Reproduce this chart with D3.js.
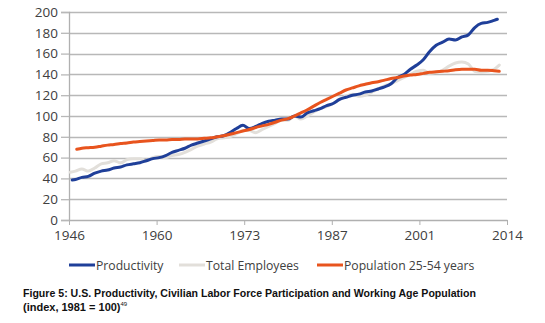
<!DOCTYPE html>
<html><head><meta charset="utf-8">
<script src="https://cdn.jsdelivr.net/npm/d3@7"></script>
<style>body{margin:0;background:#fff}svg{display:block}</style>
</head><body><div id="chart"></div>
<script>
// ---- data (index, 1981 = 100) ----
const productivityYears = [1946.5,1947,1948,1949,1950,1951,1952,1953,1954,1955,1956,1957,1958,1959,1960,1961,1962,1963,1964,1965,1966,1967,1968,1969,1970,1971,1972,1973,1974,1975,1976,1977,1978,1979,1980,1981,1982,1983,1984,1985,1986,1987,1988,1989,1990,1991,1992,1993,1994,1995,1996,1997,1998,1999,2000,2001,2002,2003,2004,2005,2006,2007,2008,2009,2010,2011,2012,2012.5];
const productivity = [38.5,39,41,42,45,47,48,50,51,53,54,55,57,59,60,62,65,67,69,72,74,76,78,80,81,84,88,91,88,90,93,95,96,97,97,100,99,103,105,107,110,112,116,118,120,121,123,124,126,128,131,137,140,145,149,154,162,168,171,174,173,176,178,185,189,190,192,193];

const employeeYears = [1946.2,1947,1948,1949,1950,1951,1952,1953,1954,1955,1956,1957,1958,1959,1960,1961,1962,1963,1964,1965,1966,1967,1968,1969,1970,1971,1972,1973,1974,1975,1976,1977,1978,1979,1980,1981,1982,1983,1984,1985,1986,1987,1988,1989,1990,1991,1992,1993,1994,1995,1996,1997,1998,1999,2000,2001,2002,2003,2004,2005,2006,2007,2008,2009,2010,2011,2012,2012.8];
const employees = [46,47,49,47,50,54,55,57,55,58,59,59,57,60,61,60,62,63,65,68,71,73,75,78,79,80,83,86,86,84,87,90,93,96,96,100,97,100,104,107,109,112,116,119,121,119,120,123,126,129,131,134,137,140,143,144,141,142,144,148,151,152,150,143,142,143,145,149];

const populationYears = [1947.2,1948,1949,1950,1951,1952,1953,1954,1955,1956,1957,1958,1959,1960,1961,1962,1963,1964,1965,1966,1967,1968,1969,1970,1971,1972,1973,1974,1975,1976,1977,1978,1979,1980,1981,1982,1983,1984,1985,1986,1987,1988,1989,1990,1991,1992,1993,1994,1995,1996,1997,1998,1999,2000,2001,2002,2003,2004,2005,2006,2007,2008,2009,2010,2011,2012,2012.8];
const population = [68,69,69.5,70,71,72,72.5,73.5,74,75,75.5,76,76.5,77,77,77.5,77.5,78,78,78,78.5,79,80,81,82.5,84,85.5,87,89,90.5,92,94,96,97.5,100,103,106,109.5,113,116,119,122,125,127,129,130.5,132,133,134.5,136,137,138.5,139.5,140,141,142,142.5,143,143.5,144.5,145,145,145,144,144,143.5,143];

const yTicks = [0,20,40,60,80,100,120,140,160,180,200];
const xTickLabels = ["1946","1960","1973","1987","2001","2014"];
const seriesNames = ["Productivity","Total Employees","Population 25-54 years"];
const seriesColors = ["#1f3f99","#e2dfda","#e8541e"];

const W = 545, H = 323;
const margin = {left:69, right:38, top:12, bottom:103};
const svg = d3.select("#chart").append("svg").attr("width",W).attr("height",H);
const font = "'Open Sans', Arial, sans-serif";

const x = d3.scaleLinear().domain([1946,2014]).range([margin.left, W-margin.right]);
const y = d3.scaleLinear().domain([0,200]).range([H-margin.bottom, margin.top]);

// gridlines
svg.append("g").selectAll("line").data(yTicks.filter(d=>d>0)).join("line")
  .attr("x1",x(1946)).attr("x2",x(2014))
  .attr("y1",d=>Math.round(y(d))+0.5).attr("y2",d=>Math.round(y(d))+0.5)
  .attr("stroke","#b8b8b8").attr("stroke-width",1.3);

// y axis
const yAxis = svg.append("g").attr("transform",`translate(${x(1946)},0)`)
  .call(d3.axisLeft(y).tickValues(yTicks).tickSize(8).tickPadding(3));
yAxis.select(".domain").attr("stroke","#b0b0b0").attr("stroke-width",1.3);
yAxis.selectAll(".tick line").attr("stroke","#b8b8b8").attr("stroke-width",1.3);
yAxis.selectAll("text").attr("font-family",font).attr("font-size",13.5).attr("fill","#404040");

// x axis (tick labels evenly spaced)
const xTickVals = xTickLabels.map((d,i)=>1946 + i*(2014-1946)/(xTickLabels.length-1));
const xAxis = svg.append("g").attr("transform",`translate(0,${y(0)})`)
  .call(d3.axisBottom(x).tickValues(xTickVals).tickSize(5).tickSizeOuter(0).tickPadding(5)
    .tickFormat((d,i)=>xTickLabels[i]));
xAxis.select(".domain").attr("stroke","#b0b0b0").attr("stroke-width",1.3);
xAxis.selectAll(".tick line").attr("stroke","#b0b0b0");
xAxis.selectAll("text").attr("font-family",font).attr("font-size",13.5).attr("fill","#404040");

// lines
const series = [
  {years:productivityYears, vals:productivity, i:0},
  {years:employeeYears, vals:employees, i:1},
  {years:populationYears, vals:population, i:2}
];
const line = d3.line().x(d=>x(d[0])).y(d=>y(d[1])).curve(d3.curveMonotoneX);
[1,0,2].forEach(k=>{
  const s = series[k];
  svg.append("path").datum(s.years.map((yr,j)=>[yr,s.vals[j]]))
    .attr("d",line).attr("fill","none").attr("stroke",seriesColors[s.i])
    .attr("stroke-width",3).attr("stroke-linejoin","round").attr("stroke-linecap","round");
});

// legend
const legendX = [69,179,317];
const lg = svg.append("g");
seriesNames.forEach((n,i)=>{
  lg.append("line").attr("x1",legendX[i]).attr("x2",legendX[i]+26).attr("y1",265).attr("y2",265)
    .attr("stroke",seriesColors[i]).attr("stroke-width",3);
  lg.append("text").attr("x",legendX[i]+27).attr("y",269.5).text(n)
    .attr("font-family",font).attr("font-size",12.2).attr("fill","#404040");
});

// caption
const cap = svg.append("g").attr("font-family","'Liberation Sans', Arial, sans-serif")
  .attr("font-weight","bold").attr("font-size",11).attr("fill","#111");
cap.append("text").attr("x",23).attr("y",297)
  .text("Figure 5: U.S. Productivity, Civilian Labor Force Participation and Working Age Population")
  .attr("textLength",453).attr("lengthAdjust","spacingAndGlyphs");
const t2 = cap.append("text").attr("x",23).attr("y",311);
t2.append("tspan").text("(index, 1981 = 100)");
t2.append("tspan").text("49").attr("font-size",6).attr("dy",-5).attr("font-weight","normal");
</script></body></html>
